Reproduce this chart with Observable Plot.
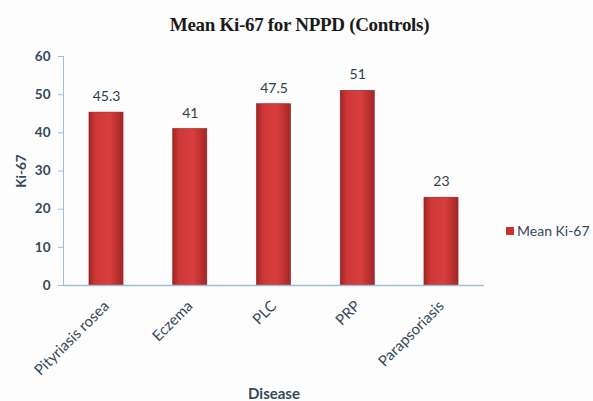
<!DOCTYPE html>
<html><head><meta charset="utf-8">
<script src="https://cdn.jsdelivr.net/npm/d3@7"></script>
<script src="https://cdn.jsdelivr.net/npm/@observablehq/plot@0.6"></script>
<style>
html,body{margin:0;padding:0;background:#fff;}
#wrap{position:relative;width:593px;height:401px;overflow:hidden;background:#fdfdfd;}
#title{position:absolute;left:0;width:599px;top:14px;text-align:center;font-family:"Liberation Serif",serif;font-weight:bold;font-size:19px;letter-spacing:-0.3px;color:#1a1a1a;}
#legend{position:absolute;left:506px;top:222px;font-family:Lato,"Open Sans",sans-serif;font-size:14px;color:#34495a;white-space:nowrap;}
#legend span.sw{display:inline-block;width:8px;height:8px;background:#c83232;margin-right:3px;vertical-align:middle;position:relative;top:-1px;}
</style></head>
<body><div id="wrap"><div id="title">Mean Ki-67 for NPPD (Controls)</div><div id="legend"><span class="sw"></span>Mean Ki-67</div></div>
<script>
const categories = ["Pityriasis rosea", "Eczema", "PLC", "PRP", "Parapsoriasis"];
const values = [45.3, 41, 47.5, 51, 23];
const yTicks = [0, 10, 20, 30, 40, 50, 60];
const seriesName = "Mean Ki-67";

const data = categories.map((c, i) => ({disease: c, value: values[i]}));
const textColor = "#34495a";
const axisColor = "#9cc0d6";

const chart = Plot.plot({
  width: 593,
  height: 401,
  marginLeft: 63,
  marginRight: 109,
  marginTop: 56,
  marginBottom: 116,
  style: {fontFamily: "Lato, 'Open Sans', sans-serif", fontSize: "13px", color: textColor, background: "transparent"},
  x: {domain: categories, paddingInner: 0.593, paddingOuter: 0.31, round: false},
  y: {domain: [0, 60]},
  marks: [
    Plot.frame({anchor: "left", stroke: axisColor}),
    Plot.axisY({ticks: yTicks, tickSize: 5, tickPadding: 8, stroke: axisColor, label: "Ki-67", labelAnchor: "center", labelArrow: "none", labelOffset: 47, fontSize: 13.5, fontWeight: "bold", fill: textColor}),
    Plot.axisX({tickSize: 0, tickRotate: -45, tickPadding: 18, label: "Disease", labelAnchor: "center", labelArrow: "none", labelOffset: 113, fontSize: 15, fill: textColor}),
    Plot.barY(data, {x: "disease", y: "value", fill: "url(#barGrad)", stroke: "#8f2020", strokeWidth: 0.6}),
    Plot.ruleY([0], {stroke: axisColor, strokeWidth: 1.3}),
    Plot.text(data, {x: "disease", y: "value", text: d => String(d.value), dy: -16, fontSize: 14, fill: "#2e3e4a"})
  ]
});

// gradient for bars
const ns = "http://www.w3.org/2000/svg";
const defs = document.createElementNS(ns, "defs");
defs.innerHTML = `<linearGradient id="barGrad" x1="0" x2="1" y1="0" y2="0">
  <stop offset="0" stop-color="#a22424"/>
  <stop offset="0.2" stop-color="#cf3838"/>
  <stop offset="0.6" stop-color="#d93e3e"/>
  <stop offset="1" stop-color="#a52626"/>
</linearGradient>`;
chart.insertBefore(defs, chart.firstChild);
chart.style.position = "absolute";
chart.style.left = "0";
chart.style.top = "0";
chart.querySelectorAll("g[aria-label='y-axis label'] text, g[aria-label='x-axis label'] text").forEach(t => t.setAttribute("font-weight", "bold"));
document.getElementById("wrap").prepend(chart);
</script>
</body></html>
